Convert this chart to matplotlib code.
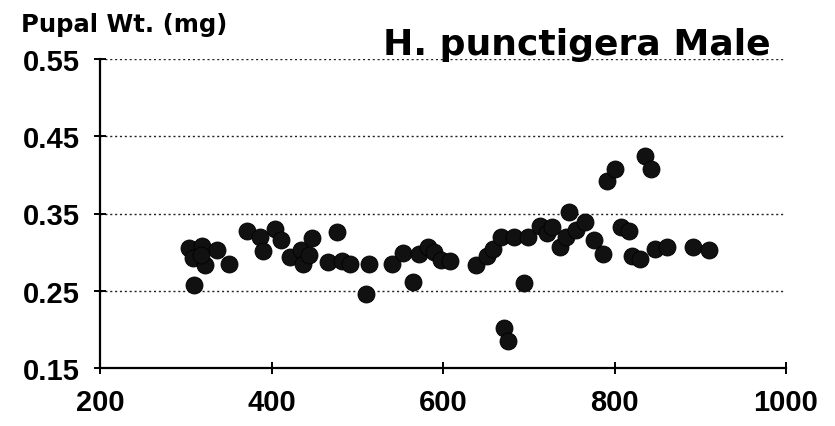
import matplotlib
matplotlib.use("Agg")
import matplotlib.pyplot as plt

# Data
days = [304, 319, 336, 309, 322, 318, 351, 310,
        371, 387, 404, 411, 390, 422, 434, 437, 447, 444,
        476, 466, 482, 491, 514, 510, 541, 553, 565, 572, 582, 590, 598, 608,
        639, 651, 658, 668, 683, 671, 676, 694, 699,
        713, 721, 727, 736, 747, 744, 755, 766, 776, 787,
        791, 801, 808, 817, 820, 830, 835, 843, 847, 861, 891, 910]
weights = [0.305, 0.308, 0.303, 0.292, 0.283, 0.296, 0.285, 0.257,
           0.327, 0.320, 0.330, 0.316, 0.302, 0.294, 0.303, 0.285, 0.318, 0.296,
           0.326, 0.287, 0.288, 0.284, 0.285, 0.246, 0.285, 0.299, 0.261, 0.298, 0.306, 0.300, 0.290, 0.288,
           0.283, 0.295, 0.304, 0.320, 0.320, 0.202, 0.185, 0.260, 0.319,
           0.334, 0.325, 0.333, 0.307, 0.352, 0.320, 0.329, 0.339, 0.316, 0.297,
           0.392, 0.407, 0.333, 0.327, 0.295, 0.291, 0.424, 0.408, 0.304, 0.306, 0.307, 0.303]

x_ticks = [200, 400, 600, 800, 1000]
y_ticks = [0.15, 0.25, 0.35, 0.45, 0.55]
y_tick_labels = ["0.15", "0.25", "0.35", "0.45", "0.55"]
title = "H. punctigera Male"
ylabel = "Pupal Wt. (mg)"

W, H = 835, 427
fig = plt.figure(figsize=(W / 100, H / 100), dpi=100)
ax = fig.add_axes([100 / W, 1 - 369 / H, 686 / W, 309 / H])

ax.scatter(days, weights, s=150, color="#111111", edgecolors="#000000",
           linewidths=0.6, zorder=3, clip_on=False)

ax.set_xlim(200, 1000)
ax.set_ylim(0.15, 0.55)
ax.set_xticks(x_ticks)
ax.set_yticks(y_ticks)
ax.set_yticklabels(y_tick_labels)

for side in ("top", "right"):
    ax.spines[side].set_visible(False)
for side in ("left", "bottom"):
    ax.spines[side].set_linewidth(1.6)
    ax.spines[side].set_color("black")

ax.tick_params(axis="both", direction="inout", length=9, width=1.4,
               colors="black", pad=10)
for lab in ax.get_xticklabels() + ax.get_yticklabels():
    lab.set_fontfamily("Liberation Sans")
    lab.set_fontweight("bold")
    lab.set_fontsize(21)

for yv in y_ticks[1:]:
    ax.axhline(yv, xmin=0, xmax=0.995, color="#222222", linewidth=1.0,
               linestyle=(0, (1.5, 2.0)), zorder=1)

fig.text(21 / W, 1 - 32 / H, ylabel, family="DejaVu Sans", weight="bold",
         fontsize=17.5, ha="left", va="baseline")
fig.text(383 / W, 1 - 55 / H, title, family="DejaVu Sans", weight="bold",
         fontsize=26, ha="left", va="baseline")

fig.savefig("out.png", dpi=100, facecolor="white")
